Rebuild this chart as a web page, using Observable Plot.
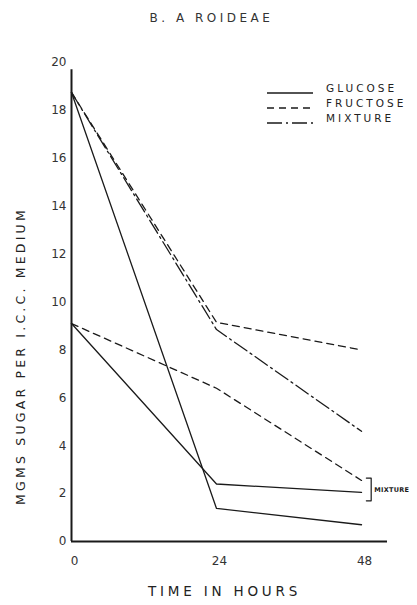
<!DOCTYPE html>
<html>
<head>
<meta charset="utf-8">
<script src="https://cdn.jsdelivr.net/npm/d3@7"></script>
<script src="https://cdn.jsdelivr.net/npm/@observablehq/plot@0.6"></script>
<style>
  html, body { margin: 0; padding: 0; background: #fff; }
  #chart { width: 417px; height: 605px; }
</style>
</head>
<body>
<div id="chart"></div>
<script>
// ---- data ----
const hours = [0, 24, 48];
const glucose = [18.75, 1.38, 0.7];        // solid
const fructose = [18.75, 9.15, 8.0];       // dashed
const mixture = [18.75, 8.85, 4.6];        // dash-dot
const mixGlucose = [9.1, 2.4, 2.05];       // solid (mixture component)
const mixFructose = [9.1, 6.4, 2.55];      // dashed (mixture component)
const yTicks = [0, 2, 4, 6, 8, 10, 12, 14, 16, 18, 20];
const xTicks = [0, 24, 48];
const legendNames = ["GLUCOSE", "FRUCTOSE", "MIXTURE"];

const title = "B. A ROIDEAE";
const xLabel = "TIME IN HOURS";
const yLabel = "MGMS SUGAR PER I.C.C. MEDIUM";
const bracketLabel = "MIXTURE";

// ---- styles ----
const SOLID = null, DASH = "7,5", DASHDOT = "15,4,2,4";
const series = [
  {name: "glucose", values: glucose, dash: SOLID},
  {name: "fructose", values: fructose, dash: DASH},
  {name: "mixture", values: mixture, dash: DASHDOT},
  {name: "mixGlucose", values: mixGlucose, dash: SOLID},
  {name: "mixFructose", values: mixFructose, dash: DASH}
];
const legendDash = [SOLID, DASH, DASHDOT];

const FONT = "DejaVu Sans, sans-serif";
const INK = "#1a1a1a";

const lineMarks = series.map(s =>
  Plot.line(hours.map((h, i) => ({x: h, y: s.values[i]})), {
    x: "x", y: "y", stroke: INK, strokeWidth: 1.3,
    strokeDasharray: s.dash || undefined
  })
);

// bracket derived from the two mixture-component end values
const bTop = mixFructose[2] + 0.1, bBot = mixGlucose[2] - 0.35;
const bx0 = 48.8, bx1 = 49.6;
const bracket = [
  {x: bx0, y: bTop}, {x: bx1, y: bTop}, {x: bx1, y: bBot}, {x: bx0, y: bBot}
];

const chart = Plot.plot({
  width: 417,
  height: 605,
  marginLeft: 71,
  marginRight: 30,
  marginTop: 62,
  marginBottom: 64,
  style: {fontFamily: FONT, background: "#fff", color: INK},
  x: {domain: [0, 52.3]},
  y: {domain: [0, 20]},
  marks: [
    Plot.axisY(yTicks, {tickSize: 0, tickPadding: 5, fontSize: 12, label: null,
      tickFormat: d => String(d), fill: "#333"}),
    Plot.axisX(xTicks, {tickSize: 0, tickPadding: 15, fontSize: 12, label: null,
      tickFormat: d => String(d), fill: "#333", dx: 3}),
    Plot.ruleX([0], {y1: 0, y2: 19.7, stroke: INK, strokeWidth: 2}),
    Plot.ruleY([0], {stroke: INK, strokeWidth: 2}),
    ...lineMarks,
    Plot.line(bracket, {x: "x", y: "y", stroke: INK, strokeWidth: 1.2}),
    Plot.text([bracketLabel], {x: bx1 + 0.5, y: (bTop + bBot) / 2, text: d => d,
      textAnchor: "start", fontSize: 6.5, fontWeight: "bold", fill: INK}),
    Plot.text([title], {frameAnchor: "top", textAnchor: "middle", dy: -49, dx: -18,
      text: d => d, fontSize: 12, fill: "#333"}),
    Plot.text([xLabel], {frameAnchor: "bottom", textAnchor: "middle", dy: 54, dx: -5,
      text: d => d, fontSize: 13.5, fill: "#222"}),
    Plot.text([yLabel], {frameAnchor: "left", textAnchor: "middle", dx: -51, dy: 54,
      rotate: -90, text: d => d, fontSize: 12.5, fill: "#222"})
  ]
});

const svg = d3.select(chart);
// letter spacing for lettered labels
svg.selectAll("text").each(function() {
  const t = d3.select(this);
  const s = t.text();
  if (s === title) t.attr("letter-spacing", "3.5");
  if (s === xLabel) t.attr("letter-spacing", "3.8");
  if (s === yLabel) t.attr("letter-spacing", "3.2");
  if (s === bracketLabel) t.attr("letter-spacing", "0.3");
});

// legend (top-right)
const lg = svg.append("g").attr("font-family", FONT).attr("font-size", 10.5)
  .attr("fill", "#222").attr("text-anchor", "start");
legendNames.forEach((n, i) => {
  const y = 93 + i * 15;
  lg.append("line").attr("x1", 267).attr("x2", 313).attr("y1", y).attr("y2", y)
    .attr("stroke", INK).attr("stroke-width", 1.3)
    .attr("stroke-dasharray", legendDash[i] || null);
  lg.append("text").attr("x", 326).attr("y", y - 5).attr("dy", "0.35em")
    .attr("letter-spacing", "3").text(n);
});

document.getElementById("chart").appendChild(chart);
</script>
</body>
</html>
